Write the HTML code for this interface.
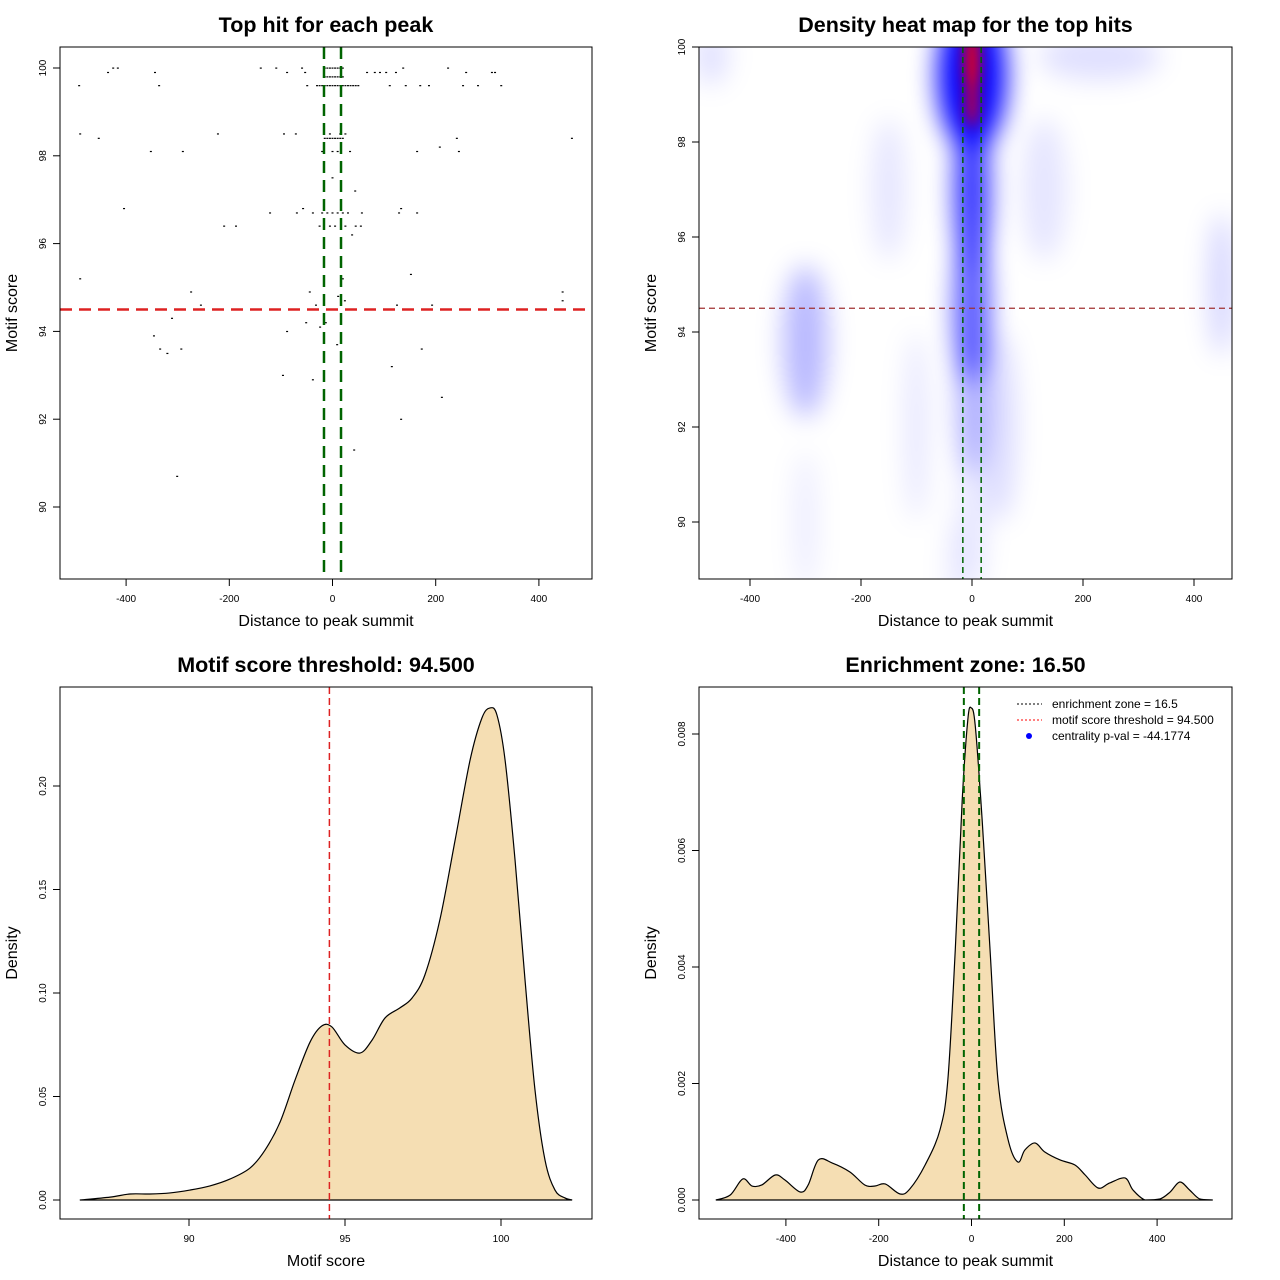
<!DOCTYPE html>
<html><head><meta charset="utf-8"><style>
body{margin:0;background:#fff;}
svg{display:block;font-family:"Liberation Sans",sans-serif;}
</style></head><body>
<svg id="c" width="1280" height="1280" viewBox="0 0 1280 1280"></svg>
<script>
// ---- data ----
const scatterX=[-491,-489,-453,-435,-425,-416,-404,-352,-344,-336,-290,-222,-210,-187,-139,-109,-94,-71,-88,-59,-53,-49,-38,-121,-69,-57,34,44,38,57,67,82,92,104,111,123,137,129,133,142,164,164,170,187,208,224,241,245,253,259,282,309,315,327,464,-489,-274,-255,-257,-311,-346,-334,-320,-293,-88,-96,-38,125,173,193,115,212,133,42,-301,152,446,446,-44,-32,-51,-24,-13,-3,11,9,24,
-15,-10,-5,0,5,10,15,20,-15,-10,-5,0,5,10,15,20,-30,-25,-20,-15,-10,-5,0,5,10,15,20,25,30,35,40,45,50,-15,-10,-5,0,5,10,15,20,-20,0,10,-5,15,25,-20,-10,0,10,20,30,-25,-5,5,25,45,55,0,20,0,5];
const scatterY=[99.6,98.5,98.4,99.9,100,100,96.8,98.1,99.9,99.6,98.1,98.5,96.4,96.4,100,100,98.5,98.5,99.9,100,99.9,99.6,96.7,96.7,96.7,96.8,98.1,97.2,96.2,96.7,99.9,99.9,99.9,99.9,99.6,99.9,100,96.7,96.8,99.6,98.1,96.7,99.6,99.6,98.2,100,98.4,98.1,99.6,99.9,99.6,99.9,99.9,99.6,98.4,95.2,94.9,94.6,94.5,94.3,93.9,93.6,93.5,93.6,94.0,93.0,92.9,94.6,93.6,94.6,93.2,92.5,92.0,91.3,90.7,95.3,94.9,94.7,94.9,94.6,94.2,94.1,94.2,94.5,94.8,93.7,94.7,
100,100,100,100,100,100,100,100,99.8,99.8,99.8,99.8,99.8,99.8,99.8,99.8,99.6,99.6,99.6,99.6,99.6,99.6,99.6,99.6,99.6,99.6,99.6,99.6,99.6,99.6,99.6,99.6,99.6,98.4,98.4,98.4,98.4,98.4,98.4,98.4,98.4,98.1,98.1,98.1,98.5,98.5,98.5,96.7,96.7,96.7,96.7,96.7,96.7,96.4,96.4,96.4,96.4,96.4,96.4,97.5,95.2,94.5,94.5];
// heatmap blobs (blue layer): center x, center y, spread x, spread y, opacity
const blobX=[0,0,0,0,0,-300,-470,230,450,-100,50,-300,-150,130,0,-30];
const blobY=[99.4,97,94.5,92.5,100.2,93.8,99.8,99.8,95,92,92,90,97,97,90,89];
const blobSX=[62,30,30,24,45,40,30,110,22,20,30,20,30,40,25,15];
const blobSY=[1.6,1.8,1.6,1.5,0.8,1.6,0.6,0.5,1.5,2,2,1.5,1.5,1.5,1.5,1];
const blobA=[1,0.85,0.7,0.35,1,0.28,0.12,0.12,0.18,0.1,0.14,0.08,0.1,0.1,0.1,0.08];
// red core layer
const coreX=[0,0];
const coreY=[99.7,98.9];
const coreSX=[13,9];
const coreSY=[0.8,0.6];
const dens3X=[86.5,87.47,88.11,88.75,89.39,90.03,90.67,91.31,91.96,92.44,92.92,93.40,93.88,94.26,94.58,95.0,95.48,95.87,96.28,96.76,97.15,97.56,98.04,98.53,99.01,99.39,99.65,99.87,100.13,100.45,100.77,101.09,101.41,101.73,102.05,102.28];
const dens3Y=[0,0.0014,0.0029,0.0029,0.0034,0.0048,0.0068,0.0101,0.0155,0.0242,0.0377,0.0580,0.0763,0.0841,0.0836,0.0749,0.0710,0.0773,0.0879,0.0928,0.0976,0.1087,0.1353,0.1739,0.2126,0.2329,0.2377,0.2343,0.2126,0.1643,0.1063,0.0531,0.0193,0.0048,0.0010,0];
const dens4X=[-551,-520,-493,-473,-452,-423,-402,-369,-352,-330,-300,-262,-230,-208,-186,-154,-133,-100,-68,-51,-35,-20,-8,-1,8,23,40,57,79,100,115,137,158,191,223,245,273,298,331,348,374,406,428,449,470,492,520];
const dens4Y=[0,.086,.361,.240,.258,.429,.343,.137,.258,.687,.635,.481,.258,.240,.275,.103,.189,.601,1.202,2.06,4.29,6.87,8.24,8.45,8.15,6.52,4.29,2.06,1.03,.652,.858,.979,.824,.687,.601,.429,.206,.292,.378,.172,0,.017,.137,.309,.172,.017,0].map(v=>v/1000);
const ticksDist=[-400,-200,0,200,400];
const ticksScore=[90,92,94,96,98,100];
const ticks3X=[90,95,100];
const ticks3Y=[0,0.05,0.10,0.15,0.20];
const labels3Y=["0.00","0.05","0.10","0.15","0.20"];
const ticks4Y=[0,0.002,0.004,0.006,0.008];
const labels4Y=["0.000","0.002","0.004","0.006","0.008"];
const threshold=94.5, zone=16.5;

// ---- drawing ----
const NS="http://www.w3.org/2000/svg", svg=document.getElementById('c');
function mk(tag,attrs,parent){const e=document.createElementNS(NS,tag);for(const k in attrs)e.setAttribute(k,attrs[k]);(parent||svg).appendChild(e);return e;}
function smooth(pts){let d='M'+pts[0][0]+','+pts[0][1];
  for(let i=0;i<pts.length-1;i++){const p0=pts[Math.max(0,i-1)],p1=pts[i],p2=pts[i+1],p3=pts[Math.min(pts.length-1,i+2)];
    const c1x=p1[0]+(p2[0]-p0[0])/6,c1y=p1[1]+(p2[1]-p0[1])/6,c2x=p2[0]-(p3[0]-p1[0])/6,c2y=p2[1]-(p3[1]-p1[1])/6;
    d+=` C${c1x},${Math.min(c1y,1200)} ${c2x},${Math.min(c2y,1200)} ${p2[0]},${p2[1]}`;}
  return d;}
function panel(id,L,T,R,B,x0,x1,y0,y1,title,xt,yt,xticks,xlabels,yticks,ylabels){
  const g=mk('g',{});
  
  
  const sx=v=>L+(v-x0)/(x1-x0)*(R-L), sy=v=>B-(v-y0)/(y1-y0)*(B-T);
  const t=mk('text',{x:(L+R)/2,y:T-15,'text-anchor':'middle','font-size':21.5,'font-weight':'bold'},g);t.textContent=title;
  
  const xa=mk('text',{x:(L+R)/2,y:B+47,'text-anchor':'middle','font-size':16},g);xa.textContent=xt;
  
  const ya=mk('text',{x:0,y:0,'text-anchor':'middle','font-size':16,transform:`translate(${L-43},${(T+B)/2}) rotate(-90)`},g);ya.textContent=yt;
  
  xticks.forEach((v,i)=>{const x=sx(v);mk('line',{x1:x,x2:x,y1:B,y2:B+7,stroke:'#000'},g);
    const tl=mk('text',{x:x,y:B+23,'text-anchor':'middle','font-size':10},g);tl.textContent=xlabels[i];
    });
  mk('line',{x1:sx(xticks[0]),x2:sx(xticks[xticks.length-1]),y1:B,y2:B,stroke:'#000'},g);
  yticks.forEach((v,i)=>{const y=sy(v);mk('line',{x1:L-7,x2:L,y1:y,y2:y,stroke:'#000'},g);
    const tl=mk('text',{x:0,y:0,'text-anchor':'middle','font-size':10,transform:`translate(${L-14},${y}) rotate(-90)`},g);tl.textContent=ylabels[i];
    });
  return {g,sx,sy,L,T,R,B};
}
function box(p){const r=mk('rect',{x:p.L,y:p.T,width:p.R-p.L,height:p.B-p.T,fill:'none',stroke:'#000'},p.g);}
function clip(p,id){const cp=mk('clipPath',{id:id},p.g);mk('rect',{x:p.L,y:p.T,width:p.R-p.L,height:p.B-p.T},cp);const g=mk('g',{'clip-path':`url(#${id})`},p.g);return g;}

// Panel 1
const P1=panel('scatter-panel',60,47,592,579,(60-332.5)/0.516,(592-332.5)/0.516,100-(579-68)/43.9,100+(68-47)/43.9,'Top hit for each peak','Distance to peak summit','Motif score',ticksDist,ticksDist.map(String),ticksScore,ticksScore.map(String));
scatterX.forEach((v,i)=>{const r=mk('rect',{x:P1.sx(v)-1,y:P1.sy(scatterY[i])-0.5,width:2,height:1.2,fill:'#000'},P1.g);
  });
[-zone,zone].forEach(v=>{const l=mk('line',{x1:P1.sx(v),x2:P1.sx(v),y1:P1.T,y2:P1.B,stroke:'#006400','stroke-width':2.5,'stroke-dasharray':'12,7'},P1.g);});
{const l=mk('line',{x1:P1.L,x2:P1.R,y1:P1.sy(threshold),y2:P1.sy(threshold),stroke:'#dd2222','stroke-width':2.5,'stroke-dasharray':'12,7'},P1.g);}
box(P1);

// Panel 2
const P2=panel('heatmap-panel',699,47,1232,579,(699-972)/0.555,(1232-972)/0.555,100-(579-47)/47.5,100,'Density heat map for the top hits','Distance to peak summit','Motif score',ticksDist,ticksDist.map(String),ticksScore,ticksScore.map(String));
{const f=mk('filter',{id:'blur',x:'-100%',y:'-100%',width:'300%',height:'300%'},P2.g);mk('feGaussianBlur',{stdDeviation:13},f);
const f2=mk('filter',{id:'blur2',x:'-100%',y:'-100%',width:'300%',height:'300%'},P2.g);mk('feGaussianBlur',{stdDeviation:7},f2);
const cg=clip(P2,'clip2');const bg=mk('g',{filter:'url(#blur)'},cg);
blobX.forEach((v,i)=>{const e=mk('ellipse',{cx:P2.sx(v),cy:P2.sy(blobY[i]),rx:blobSX[i]*0.555,ry:blobSY[i]*47.5,fill:'#0000ff','fill-opacity':blobA[i]},bg);
  });
const rg=mk('g',{filter:'url(#blur2)'},cg);
coreX.forEach((v,i)=>{const e=mk('ellipse',{cx:P2.sx(v),cy:P2.sy(coreY[i]),rx:coreSX[i]*0.555,ry:coreSY[i]*47.5,fill:'#ff0000'},rg);
  });}
[-zone,zone].forEach(v=>{const l=mk('line',{x1:P2.sx(v),x2:P2.sx(v),y1:P2.T,y2:P2.B,stroke:'#006400','stroke-width':1.5,'stroke-dasharray':'6,4'},P2.g);});
{const l=mk('line',{x1:P2.L,x2:P2.R,y1:P2.sy(threshold),y2:P2.sy(threshold),stroke:'#a03030','stroke-width':1.2,'stroke-dasharray':'6,4'},P2.g);}
box(P2);

// Panel 3
const P3=panel('score-density-panel',60,687,592,1219,90+(60-189)/31.2,90+(592-189)/31.2,(1200-1219)/2070,(1200-687)/2070,'Motif score threshold: 94.500','Motif score','Density',ticks3X,ticks3X.map(String),ticks3Y,labels3Y);
{const d=smooth(dens3X.map((v,i)=>[P3.sx(v),P3.sy(dens3Y[i])]));
const a=mk('path',{d:d+' Z',fill:'#f5deb3',stroke:'#000','stroke-width':1.2},P3.g);
const l=mk('line',{x1:P3.sx(threshold),x2:P3.sx(threshold),y1:P3.T,y2:P3.B,stroke:'#dd2222','stroke-width':1.5,'stroke-dasharray':'7,4'},P3.g);}
box(P3);

// Panel 4
const P4=panel('distance-density-panel',699,687,1232,1219,(699-971.5)/0.464,(1232-971.5)/0.464,(1200-1219)/58250,(1200-687)/58250,'Enrichment zone: 16.50','Distance to peak summit','Density',ticksDist,ticksDist.map(String),ticks4Y,labels4Y);
{const d=smooth(dens4X.map((v,i)=>[P4.sx(v),P4.sy(dens4Y[i])]));
const a=mk('path',{d:d+' Z',fill:'#f5deb3',stroke:'#000','stroke-width':1.2},P4.g);
[-zone,zone].forEach(v=>{const l=mk('line',{x1:P4.sx(v),x2:P4.sx(v),y1:P4.T,y2:P4.B,stroke:'#006400','stroke-width':2,'stroke-dasharray':'7,4'},P4.g);});
const lg=mk('g',{},P4.g);
const items=[['enrichment zone = 16.5','#000','line'],['motif score threshold = 94.500','#ff0000','line'],['centrality p-val = -44.1774','#0000ff','dot']];
items.forEach((it,i)=>{const y=704+i*16;
  if(it[2]=='line')mk('line',{x1:1017,x2:1042,y1:y,y2:y,stroke:it[1],'stroke-dasharray':'2,2'},lg);
  else mk('circle',{cx:1029,cy:y,r:3,fill:it[1]},lg);
  const t=mk('text',{x:1052,y:y+4,'font-size':12},lg);t.textContent=it[0];
  });}
box(P4);
</script>
</body></html>
